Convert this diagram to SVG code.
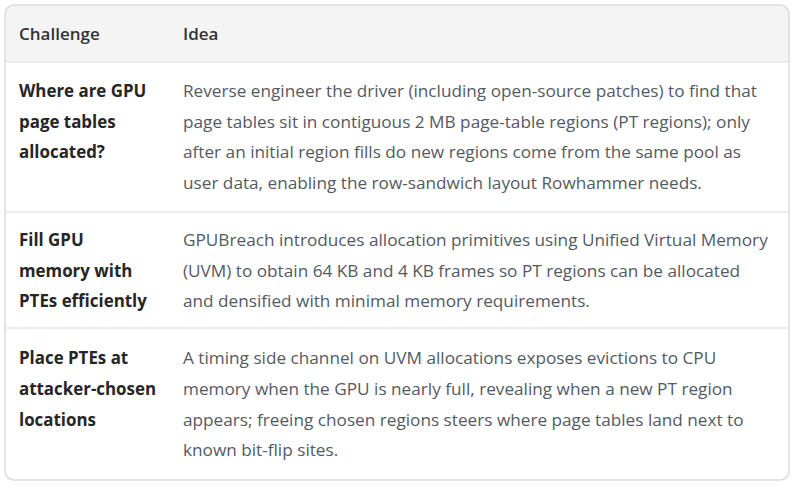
<svg xmlns="http://www.w3.org/2000/svg" width="795" height="486" viewBox="0 0 795 486">
<style>
.hd{font-family:"Open Sans","Noto Sans",sans-serif;font-size:17px;font-weight:600;fill:#333333}
.ch{font-family:"Open Sans","Noto Sans",sans-serif;font-size:16.9px;font-weight:700;fill:#262626}
.id{font-family:"Open Sans","Noto Sans",sans-serif;font-size:17.2px;font-weight:400;fill:#545a63}
.sep{stroke:#e6e6e6;stroke-width:1.5}
</style>
<defs>
<clipPath id="box"><rect x="5" y="5" width="784" height="475" rx="9"/></clipPath>
</defs>
<rect x="0" y="0" width="795" height="486" fill="#ffffff"/>
<g id="table">
<rect x="5" y="5" width="784" height="57" fill="#f4f4f4" clip-path="url(#box)"/>
<rect x="5" y="5" width="784" height="475" rx="9" fill="none" stroke="#dcdcdc" stroke-width="1.5"/>
</g>
<g id="separators">
<line class="sep" x1="5.5" y1="62" x2="788.5" y2="62"/>
<line class="sep" x1="5.5" y1="212" x2="788.5" y2="212"/>
<line class="sep" x1="5.5" y1="328" x2="788.5" y2="328"/>
</g>
<g id="header">
<text class="hd" x="19" y="40">Challenge</text>
<text class="hd" x="183" y="40">Idea</text>
</g>
<g id="row1">
<text class="ch" x="19" y="97">Where are GPU</text>
<text class="ch" x="19" y="128">page tables</text>
<text class="ch" x="19" y="158">allocated?</text>
<text class="id" x="183" y="97">Reverse engineer the driver (including open-source patches) to find that</text>
<text class="id" x="183" y="128">page tables sit in contiguous 2 MB page-table regions (PT regions); only</text>
<text class="id" x="183" y="158">after an initial region fills do new regions come from the same pool as</text>
<text class="id" x="183" y="189">user data, enabling the row-sandwich layout Rowhammer needs.</text>
</g>
<g id="row2">
<text class="ch" x="19" y="246">Fill GPU</text>
<text class="ch" x="19" y="277">memory with</text>
<text class="ch" x="19" y="307">PTEs efficiently</text>
<text class="id" x="183" y="246">GPUBreach introduces allocation primitives using Unified Virtual Memory</text>
<text class="id" x="183" y="277">(UVM) to obtain 64 KB and 4 KB frames so PT regions can be allocated</text>
<text class="id" x="183" y="307">and densified with minimal memory requirements.</text>
</g>
<g id="row3">
<text class="ch" x="19" y="364">Place PTEs at</text>
<text class="ch" x="19" y="395">attacker-chosen</text>
<text class="ch" x="19" y="426">locations</text>
<text class="id" x="183" y="364">A timing side channel on UVM allocations exposes evictions to CPU</text>
<text class="id" x="183" y="395">memory when the GPU is nearly full, revealing when a new PT region</text>
<text class="id" x="183" y="426">appears; freeing chosen regions steers where page tables land next to</text>
<text class="id" x="183" y="456">known bit-flip sites.</text>
</g>
</svg>
